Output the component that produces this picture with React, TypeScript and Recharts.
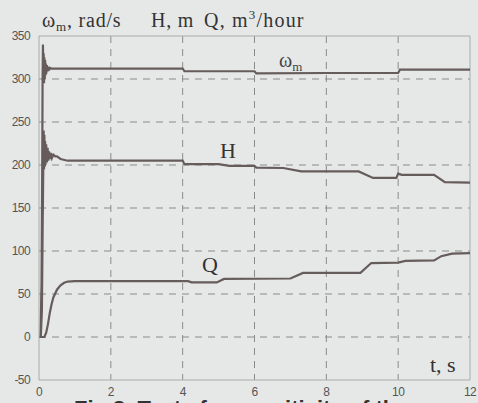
import React from "react"
import { LineChart, Line, XAxis, YAxis, CartesianGrid, ReferenceLine } from "recharts"

// omega_m, rad/s
const omegaT = [0, 0.04, 0.07, 0.09, 0.1, 0.11, 0.12, 0.13, 0.14, 0.15, 0.16, 0.17, 0.18, 0.19, 0.2, 0.22, 0.24, 0.26, 0.28, 0.3, 0.35, 0.5, 4.0, 4.05, 6.0, 6.05, 8.0, 10.0, 10.05, 12]
const omegaV = [0, 0, 60, 200, 300, 340, 300, 330, 295, 325, 300, 322, 304, 318, 306, 316, 309, 314, 310, 313, 312, 312, 312, 309, 309, 306.5, 307, 307, 311, 311]

// H, m
const headT = [0, 0.05, 0.08, 0.1, 0.12, 0.13, 0.14, 0.15, 0.16, 0.17, 0.18, 0.2, 0.22, 0.24, 0.26, 0.28, 0.3, 0.33, 0.36, 0.4, 0.45, 0.5, 0.6, 0.8, 1.0, 4.0, 4.05, 5.0, 5.3, 6.0, 6.05, 6.8, 7.3, 8.0, 8.9, 9.3, 9.95, 10.0, 10.1, 11.0, 11.3, 12]
const headV = [0, 0, 30, 120, 200, 240, 195, 235, 198, 228, 200, 224, 203, 220, 205, 216, 207, 214, 208, 212, 210, 210, 207, 205, 205, 205, 201, 201, 199, 199, 197, 196.5, 192.5, 192.5, 192.5, 185, 185, 190, 188.5, 188.5, 180, 179.5]

// Q, m3/hour
const flowT = [0, 0.15, 0.2, 0.25, 0.3, 0.35, 0.4, 0.5, 0.6, 0.7, 0.8, 1.0, 4.15, 4.25, 4.95, 5.15, 7.0, 7.35, 8.95, 9.25, 10.0, 10.2, 11.0, 11.2, 11.5, 12]
const flowV = [0, 0, 5, 15, 28, 38, 46, 55, 60, 63, 64.5, 65, 65, 63.5, 63.5, 67.5, 68, 74.5, 74.5, 86, 86.5, 88.5, 89, 94, 97, 97.5]

const xTicks = [0, 2, 4, 6, 8, 10, 12]
const yTicks = [-50, 0, 50, 100, 150, 200, 250, 300, 350]

const toRows = (t: number[], v: number[]) => t.map((x, i) => ({ t: x, v: v[i] }))

const lineColor = "#675c5c"
const serif = "'Liberation Serif', 'DejaVu Serif', serif"
const tickStyle = { fontSize: 12, fill: "#555", fontFamily: "'Liberation Sans', Arial, sans-serif", letterSpacing: -0.6 }

export default function App() {
  return (
    <div style={{ position: "absolute", left: 0, top: 0, width: 478, height: 403, background: "#e6e8e8", overflow: "hidden" }}>
      <LineChart width={478} height={403} margin={{ top: 36, right: 8, bottom: 0, left: 0 }}>
        <CartesianGrid
          stroke="#8a8a8a"
          strokeDasharray="7 6"
          horizontalValues={[0, 50, 100, 150, 200, 250, 300]}
          verticalValues={[2, 4, 6, 8, 10]}
        />
        <XAxis
          type="number"
          dataKey="t"
          domain={[0, 12]}
          ticks={xTicks}
          allowDataOverflow
          height={23}
          stroke="#aaa"
          tickLine={false}
          tickMargin={1}
          tick={tickStyle}
        />
        <YAxis
          type="number"
          dataKey="v"
          domain={[-50, 350]}
          ticks={yTicks}
          width={39}
          stroke="#aaa"
          tickLine={false}
          tickMargin={3}
          tick={tickStyle}
        />
        <ReferenceLine y={350} stroke="#aaa" />
        <ReferenceLine x={12} stroke="#aaa" />
        <Line data={toRows(omegaT, omegaV)} dataKey="v" type="linear" stroke={lineColor} strokeWidth={2.2} dot={false} isAnimationActive={false} />
        <Line data={toRows(headT, headV)} dataKey="v" type="linear" stroke={lineColor} strokeWidth={2.2} dot={false} isAnimationActive={false} />
        <Line data={toRows(flowT, flowV)} dataKey="v" type="linear" stroke={lineColor} strokeWidth={2.2} dot={false} isAnimationActive={false} />
      </LineChart>

      <svg width={478} height={403} style={{ position: "absolute", left: 0, top: 0, pointerEvents: "none" }}>
        <g fontFamily={serif} fill="#333">
          <text x={42} y={27} fontSize={20} letterSpacing={0.8}>
            ω<tspan fontSize={13} dy={4}>m</tspan><tspan dy={-4}>, rad/s</tspan>
          </text>
          <text x={151} y={27} fontSize={20} letterSpacing={0.8}>H, m</text>
          <text x={204} y={27} fontSize={20} letterSpacing={1.2}>
            Q, m<tspan fontSize={13} dy={-8}>3</tspan><tspan dy={8}>/hour</tspan>
          </text>
          <text x={279} y={67} fontSize={20} fill="#444">
            ω<tspan fontSize={13} dy={4}>m</tspan>
          </text>
          <text x={220} y={158} fontSize={22}>H</text>
          <text x={202} y={272} fontSize={22}>Q</text>
          <text x={430} y={372} fontSize={22}>t, s</text>
        </g>
        <text x={74} y={416} fontSize={22} fontWeight="bold" fill="#333" fontFamily="'Liberation Sans', Arial, sans-serif">
          Fig.3. Tests for sensitivity of the
        </text>
      </svg>
    </div>
  )
}
